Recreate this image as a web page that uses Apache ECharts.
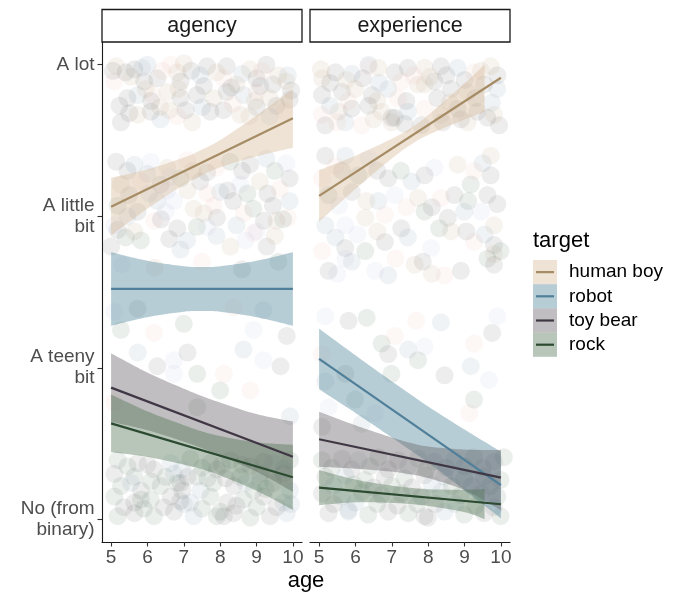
<!DOCTYPE html>
<html>
<head>
<meta charset="utf-8">
<script src="https://cdn.jsdelivr.net/npm/echarts@6/dist/echarts.min.js"></script>
<style>
  html, body { margin: 0; padding: 0; background: #ffffff; }
  #chart { width: 680px; height: 594px; }
</style>
</head>
<body>
<div id="chart"></div>
<script>
// ---- categories and ticks ----
const facets = ['agency', 'experience'];
const targets = ['human boy', 'robot', 'toy bear', 'rock'];
const yTickValues = [0, 1, 2, 3];
const yTickLabels = ['No (from\nbinary)', 'A teeny\nbit', 'A little\nbit', 'A lot'];
const xTickValues = [5, 6, 7, 8, 9, 10];

// ---- fitted lines (age 5 and age 10) ----
const fitAges = [5, 10];
const agencyHumanBoyFit = [2.063, 2.647];
const agencyRobotFit = [1.52, 1.52];
const agencyToyBearFit = [0.869, 0.413];
const agencyRockFit = [0.633, 0.277];
const experienceHumanBoyFit = [2.134, 2.914];
const experienceRobotFit = [1.058, 0.226];
const experienceToyBearFit = [0.528, 0.275];
const experienceRockFit = [0.209, 0.099];

// ---- confidence bands ----
const bandAges = [5, 6, 7, 7.5, 8, 9, 10];
const bandAgesCut = [5, 6, 7, 7.5, 8, 9, 9.55];
const agencyHumanBoyLow = [1.873, 2.05, 2.207, 2.27, 2.323, 2.395, 2.452];
const agencyHumanBoyHigh = [2.253, 2.31, 2.387, 2.44, 2.503, 2.665, 2.842];
const agencyRobotLow = [1.277, 1.334, 1.37, 1.375, 1.37, 1.334, 1.277];
const agencyRobotHigh = [1.763, 1.706, 1.67, 1.665, 1.67, 1.706, 1.763];
const agencyToyBearLow = [0.643, 0.588, 0.512, 0.469, 0.42, 0.314, 0.181];
const agencyToyBearHigh = [1.095, 0.968, 0.862, 0.813, 0.77, 0.694, 0.645];
const agencyRockLow = [0.443, 0.412, 0.361, 0.33, 0.289, 0.188, 0.062];
const agencyRockHigh = [0.823, 0.712, 0.621, 0.58, 0.549, 0.508, 0.492];
const experienceHumanBoyLow = [1.964, 2.18, 2.381, 2.469, 2.537, 2.638, 2.689];
const experienceHumanBoyHigh = [2.304, 2.4, 2.511, 2.579, 2.667, 2.878, 3.0];
const experienceRobotLow = [0.858, 0.702, 0.54, 0.457, 0.374, 0.192, 0.006];
const experienceRobotHigh = [1.258, 1.082, 0.91, 0.827, 0.744, 0.592, 0.446];
const experienceToyBearLow = [0.346, 0.334, 0.314, 0.297, 0.272, 0.192, 0.06];
const experienceToyBearHigh = [0.71, 0.62, 0.54, 0.505, 0.48, 0.46, 0.457];
const experienceRockLow = [0.093, 0.112, 0.108, 0.1, 0.088, 0.047, 0.0];
const experienceRockHigh = [0.325, 0.262, 0.222, 0.208, 0.198, 0.195, 0.2];

// ---- jittered responses [age, rating] ----
const agencyLot = [[5.14,2.99],[5.64,2.97],[6.0,3.0],[6.64,3.0],[7.0,3.01],[7.64,2.99],[8.18,2.99],[8.82,2.97],[9.27,3.0],[9.86,2.93],
  [5.09,2.89],[5.55,2.92],[5.91,2.89],[6.27,2.91],[6.82,2.95],[6.91,2.89],[7.45,2.93],[8.09,2.91],[8.45,2.87],[9.0,2.91],[9.45,2.87],[9.82,2.89],
  [5.23,2.73],[5.73,2.8],[6.14,2.8],[6.55,2.82],[6.91,2.78],[7.36,2.8],[7.82,2.78],[8.18,2.82],[8.64,2.8],[9.0,2.82],[9.36,2.78],[9.91,2.77],
  [5.27,2.62],[5.73,2.67],[6.09,2.69],[6.36,2.64],[6.82,2.66],[7.23,2.62],[7.73,2.69],[8.09,2.7],[8.55,2.67],[9.0,2.72],[9.36,2.66],[9.77,2.69],
  [5.95,2.84],[6.1,2.76],[9.1,2.86],[8.95,2.76],
  [5.4,2.95],[5.85,2.98],[6.4,2.96],[6.85,2.84],[7.2,2.96],[7.55,2.86],[7.9,2.95],[8.3,2.85],[8.6,2.94],[9.15,2.96],[9.6,2.93],
  [5.45,2.78],[5.5,2.68],[6.35,2.72],[7.05,2.7],[7.5,2.72],[8.35,2.74],[8.8,2.66],[9.55,2.73],[9.95,2.83],[6.6,2.7],[5.05,2.96]];
const agencyLittle = [[5.14,2.36],[5.64,2.34],[6.09,2.36],[6.55,2.32],[7.09,2.37],[7.64,2.29],[8.27,2.36],[8.82,2.34],[9.27,2.38],[9.82,2.35],
  [5.27,2.21],[5.82,2.23],[6.36,2.21],[6.91,2.25],[7.45,2.23],[8.0,2.16],[8.55,2.21],[9.09,2.23],[9.64,2.18],[9.91,2.25],
  [5.18,2.07],[5.73,2.03],[6.27,2.1],[6.73,2.1],[7.27,2.05],[7.82,2.07],[8.36,2.1],[8.91,2.05],[9.45,2.07],[9.91,2.1],
  [5.09,1.94],[5.64,1.9],[6.18,1.97],[6.82,1.92],[7.36,1.93],[7.91,1.99],[8.45,1.94],[9.0,1.9],[9.55,1.97],[9.86,1.99],
  [5.18,1.91],[5.82,1.84],[6.37,1.98],[7.09,1.84],[7.64,1.93],[8.28,1.8],[8.92,1.89],[9.28,1.8],[9.73,1.98],[5.0,1.8],[6.91,1.78],
  [5.3,1.68],[6.2,1.66],[7.5,1.7],[8.6,1.65],[9.6,1.7],
  [5.45,2.3],[6.0,2.28],[6.6,2.26],[7.25,2.3],[7.9,2.32],[8.6,2.3],[9.5,2.3],[5.5,2.14],[6.05,2.15],[6.55,2.17],[7.1,2.17],[7.65,2.15],
  [8.2,2.17],[8.75,2.15],[9.3,2.15],[5.45,2.0],[6.5,2.03],[7.55,2.02],[8.65,2.02],[9.2,1.97],[5.4,1.86],[6.6,1.85],[7.9,1.87],[8.7,1.84],[9.5,1.87]];
const agencyTeeny = [[5.09,1.37],[5.73,1.39],[7.0,1.29],[8.37,1.4],[9.19,1.38],[8.92,1.25],[9.83,1.21],[5.27,1.25],[6.18,1.23],[5.73,1.1],
  [6.73,1.05],[7.1,1.1],[7.37,0.96],[8.1,0.96],[8.64,1.12],[9.19,1.05],[9.66,1.01],[8.0,0.85],[8.83,0.85],[9.92,0.68],
  [6.73,0.96],[6.27,1.01],[7.37,0.74],[5.09,0.77]];
const agencyNo = [[5.18,0.39],[5.73,0.37],[6.64,0.37],[7.18,0.4],[7.73,0.37],[8.28,0.39],[8.83,0.35],[9.46,0.37],[9.92,0.39],
  [5.09,0.3],[5.64,0.28],[6.18,0.33],[6.73,0.3],[7.37,0.28],[7.91,0.33],[8.55,0.28],[9.1,0.3],[9.74,0.33],
  [5.27,0.22],[5.82,0.19],[6.36,0.22],[6.91,0.24],[7.46,0.19],[7.82,0.24],[8.37,0.22],[8.92,0.19],[9.46,0.24],[9.92,0.19],
  [5.09,0.15],[5.64,0.11],[6.09,0.13],[6.64,0.15],[7.18,0.11],[7.73,0.15],[8.19,0.11],[8.64,0.13],[9.19,0.15],[9.74,0.11],
  [5.18,0.02],[5.64,0.04],[6.18,0.02],[6.73,0.05],[7.27,0.02],[7.91,0.02],[8.37,0.04],[8.83,0.01],[9.37,0.02],[9.83,0.04],
  [6.82,0.24],[6.96,0.19],[8.0,0.05],[8.1,0.02],[9.1,0.25],[5.82,0.13],[9.74,0.3],
  [5.45,0.35],[6.0,0.36],[6.95,0.33],[7.5,0.34],[8.05,0.36],[8.6,0.36],[9.2,0.38],[5.55,0.24],[6.1,0.25],[7.1,0.28],[7.65,0.27],
  [8.15,0.27],[8.7,0.24],[9.25,0.2],[5.35,0.08],[5.9,0.07],[6.45,0.08],[7.0,0.1],[7.5,0.07],[8.45,0.09],[9.0,0.08],[9.55,0.08],
  [9.95,0.1],[6.5,0.28],[6.9,0.12]];
const experienceLot = [[5.08,2.91],[5.45,2.95],[5.9,2.94],[6.36,2.99],[6.63,2.98],[7.08,2.95],[7.44,2.98],[7.9,2.98],[8.35,2.99],[8.81,2.98],[9.26,2.95],[9.72,2.99],
  [5.08,2.8],[5.63,2.82],[5.99,2.84],[6.45,2.8],[6.9,2.84],[7.26,2.89],[7.72,2.87],[8.17,2.89],[8.63,2.84],[9.08,2.82],[9.54,2.87],[9.9,2.84],
  [5.08,2.67],[5.54,2.69],[5.9,2.71],[6.36,2.73],[6.72,2.69],[7.08,2.65],[7.44,2.69],[7.9,2.71],[8.35,2.67],[8.81,2.71],[9.35,2.69],[9.81,2.67],
  [5.17,2.6],[5.72,2.62],[6.17,2.6],[6.99,2.62],[7.35,2.61],[7.81,2.6],[9.08,2.62],[9.63,2.65],
  [6.36,3.0],[7.17,2.78],[7.9,2.87],[6.99,2.65],
  [5.3,2.88],[5.75,2.9],[6.2,2.91],[6.65,2.88],[7.6,2.93],[8.05,2.92],[8.5,2.93],[9.0,2.9],[9.45,2.96],[9.9,2.93],
  [5.3,2.73],[5.8,2.76],[6.6,2.76],[7.4,2.76],[8.25,2.78],[8.6,2.75],[9.3,2.78],[9.75,2.75],[5.5,2.62],[6.5,2.64],[8.4,2.62],[8.9,2.64],[5.05,2.97],[9.95,2.6]];
const experienceLittle = [[5.17,2.4],[5.72,2.4],[6.36,2.38],[9.72,2.4],
  [5.08,2.25],[5.63,2.3],[6.08,2.27],[6.9,2.25],[7.54,2.23],[8.17,2.32],[8.81,2.34],[9.26,2.3],[9.72,2.27],
  [5.26,2.14],[5.9,2.16],[6.63,2.1],[7.08,2.14],[7.72,2.12],[8.35,2.12],[8.72,2.14],[9.17,2.21],[9.63,2.14],
  [5.17,1.94],[5.72,1.94],[6.27,1.99],[6.81,2.01],[7.26,1.92],[7.9,2.03],[8.54,1.99],[8.99,2.03],[9.45,2.03],[9.81,1.94],
  [5.08,1.77],[5.72,1.79],[6.27,1.77],[6.81,1.83],[7.44,1.86],[8.08,1.79],[8.63,1.9],[9.26,1.83],[9.81,1.81],[9.99,1.77],
  [5.26,1.64],[5.9,1.7],[6.54,1.64],[7.63,1.68],[8.45,1.61],[8.9,1.64],[9.63,1.72],[9.81,1.68],[6.9,1.61],
  [5.72,1.72],[9.81,1.75],
  [5.45,2.33],[6.6,2.3],[7.25,2.3],[7.9,2.27],[9.5,2.35],[5.55,2.07],[6.3,2.1],[7.4,2.06],[8.1,2.06],[9.1,2.1],[9.9,2.08],
  [5.45,1.86],[6.05,1.88],[6.6,1.9],[7.1,1.72],[7.85,1.7],[8.3,1.92],[9.05,1.9],[9.55,1.88],[5.5,1.62],[8.1,1.62]];
const experienceTeeny = [[5.17,1.34],[5.81,1.31],[6.31,1.33],[7.67,1.31],[8.35,1.3],[9.9,1.34],[9.76,1.23],[6.72,1.16],[7.08,1.21],[7.45,1.12],
  [7.9,1.14],[6.9,1.09],[7.72,1.05],[9.26,1.16],[9.17,1.01],[9.67,0.92],[8.45,0.95],[6.99,0.96],[5.08,1.09],[5.17,0.91],
  [5.26,0.74],[5.08,0.61],[9.26,0.79],[9.13,0.7],[6.17,0.63],[6.54,0.7],[5.72,0.96],[5.99,0.79]];
const experienceNo = [[5.08,0.39],[5.63,0.4],[6.08,0.39],[6.63,0.41],[7.17,0.39],[7.72,0.4],[8.17,0.38],[8.72,0.39],[9.26,0.41],[9.81,0.38],[10.08,0.41],
  [5.17,0.28],[5.72,0.29],[6.26,0.26],[6.81,0.28],[7.35,0.27],[7.9,0.29],[8.45,0.28],[8.99,0.27],[9.54,0.28],[9.99,0.26],
  [5.08,0.17],[5.63,0.15],[6.17,0.18],[6.72,0.16],[7.26,0.17],[7.81,0.15],[8.35,0.18],[8.9,0.16],[9.45,0.17],[9.9,0.15],
  [5.26,0.04],[5.81,0.06],[6.35,0.03],[6.9,0.05],[7.45,0.04],[7.9,0.02],[8.45,0.05],[8.99,0.03],[9.54,0.04],[9.99,0.02],
  [7.99,0.01],[5.81,0.05],
  [5.35,0.34],[5.9,0.33],[6.4,0.35],[6.9,0.33],[7.45,0.35],[7.95,0.33],[8.5,0.34],[9.0,0.35],[9.5,0.34],
  [5.4,0.22],[5.95,0.23],[6.5,0.21],[7.0,0.22],[7.55,0.21],[8.1,0.23],[8.65,0.22],[9.2,0.22],[9.7,0.22],
  [5.4,0.1],[6.0,0.11],[6.6,0.1],[7.15,0.09],[7.7,0.1],[8.2,0.1],[8.75,0.1],[9.3,0.09],[9.8,0.08]];

// ---- styling ----
const FONT = '"Liberation Sans", Arial, Helvetica, sans-serif';
const lineColors = ['#a58c64', '#4f7f99', '#403745', '#2b4a30'];
const fillColors = ['rgba(215,185,152,0.4)', 'rgba(75,130,152,0.4)', 'rgba(97,92,97,0.4)', 'rgba(75,112,80,0.4)'];
const dot = {
  tan: 'rgba(185,160,125,0.14)', gray: 'rgba(105,105,105,0.15)', blue: 'rgba(105,140,160,0.13)',
  pink: 'rgba(230,160,140,0.10)', lav: 'rgba(160,165,220,0.10)', green: 'rgba(85,120,90,0.15)'
};
const palLot = [dot.tan, dot.gray, dot.blue, dot.pink, dot.tan, dot.gray, dot.gray];
const palLittle = [dot.gray, dot.blue, dot.lav, dot.tan, dot.pink, dot.gray, dot.green];
const palTeeny = [dot.lav, dot.gray, dot.green, dot.pink, dot.blue];
const palNo = [dot.green, dot.gray, dot.blue, dot.green, dot.gray];

const panelFits = [
  [agencyHumanBoyFit, agencyRobotFit, agencyToyBearFit, agencyRockFit],
  [experienceHumanBoyFit, experienceRobotFit, experienceToyBearFit, experienceRockFit]
];
const panelBands = [
  [[bandAges, agencyHumanBoyLow, agencyHumanBoyHigh], [bandAges, agencyRobotLow, agencyRobotHigh],
   [bandAges, agencyToyBearLow, agencyToyBearHigh], [bandAges, agencyRockLow, agencyRockHigh]],
  [[bandAgesCut, experienceHumanBoyLow, experienceHumanBoyHigh], [bandAges, experienceRobotLow, experienceRobotHigh],
   [bandAges, experienceToyBearLow, experienceToyBearHigh], [bandAgesCut, experienceRockLow, experienceRockHigh]]
];
const panelPoints = [
  [[agencyLot, palLot], [agencyLittle, palLittle], [agencyTeeny, palTeeny], [agencyNo, palNo]],
  [[experienceLot, palLot], [experienceLittle, palLittle], [experienceTeeny, palTeeny], [experienceNo, palNo]]
];

const gridLeft = [102, 310];
const gridTop = 42, gridW = 200, gridH = 500;

// Catmull-Rom curve through pixel points, sampled for a polygon outline
function sampleCurve(pts, steps) {
  const out = [];
  for (let i = 0; i < pts.length - 1; i++) {
    const p0 = pts[i - 1] || pts[i], p1 = pts[i], p2 = pts[i + 1], p3 = pts[i + 2] || pts[i + 1];
    const c1 = [p1[0] + (p2[0] - p0[0]) / 6, p1[1] + (p2[1] - p0[1]) / 6];
    const c2 = [p2[0] - (p3[0] - p1[0]) / 6, p2[1] - (p3[1] - p1[1]) / 6];
    for (let s = 0; s < steps; s++) {
      const t = s / steps, u = 1 - t;
      out.push([
        u * u * u * p1[0] + 3 * u * u * t * c1[0] + 3 * u * t * t * c2[0] + t * t * t * p2[0],
        u * u * u * p1[1] + 3 * u * u * t * c1[1] + 3 * u * t * t * c2[1] + t * t * t * p2[1]
      ]);
    }
  }
  out.push(pts[pts.length - 1]);
  return out;
}

function ribbonSeries(f, k) {
  const [ages, low, high] = panelBands[f][k];
  return {
    type: 'custom', xAxisIndex: f, yAxisIndex: f, z: 2, silent: true, clip: true,
    data: ages.map((a, i) => [a, low[i], high[i]]),
    encode: { x: 0, y: [1, 2] },
    renderItem: (params, api) => {
      if (params.dataIndex !== 0) return { type: 'group', children: [] };
      const top = ages.map((a, i) => api.coord([a, high[i]]));
      const bottom = ages.map((a, i) => api.coord([a, low[i]])).reverse();
      const outline = sampleCurve(top, 16).concat(sampleCurve(bottom, 16));
      return { type: 'polygon', shape: { points: outline }, style: { fill: fillColors[k] } };
    }
  };
}

const series = [];
facets.forEach((facet, f) => {
  panelPoints[f].forEach(([pts, pal]) => {
    series.push({
      type: 'scatter', xAxisIndex: f, yAxisIndex: f, z: 1, silent: true,
      symbol: 'circle', symbolSize: 18,
      data: pts,
      itemStyle: { color: p => pal[p.dataIndex % pal.length] }
    });
  });
  targets.forEach((t, k) => {
    series.push(ribbonSeries(f, k));
    series.push({
      type: 'line', xAxisIndex: f, yAxisIndex: f, z: 2, silent: true,
      symbol: 'none',
      lineStyle: { width: 2.2, color: lineColors[k] },
      data: fitAges.map((a, i) => [a, panelFits[f][k][i]])
    });
  });
});

const graphic = [];
facets.forEach((facet, f) => {
  graphic.push({
    type: 'rect', silent: true,
    shape: { x: gridLeft[f], y: 9.5, width: gridW, height: 32.5 },
    style: { fill: '#ffffff', stroke: '#1a1a1a', lineWidth: 1.3 }
  });
  graphic.push({
    type: 'text', silent: true,
    x: gridLeft[f] + gridW / 2, y: 26,
    style: { text: facet, fill: '#1a1a1a', font: '21.5px ' + FONT, align: 'center', verticalAlign: 'middle' }
  });
});
graphic.push({
  type: 'text', silent: true, x: 306, y: 581,
  style: { text: 'age', fill: '#000000', font: '22px ' + FONT, align: 'center', verticalAlign: 'middle' }
});
graphic.push({
  type: 'text', silent: true, x: 533, y: 241,
  style: { text: 'target', fill: '#000000', font: '22px ' + FONT, align: 'left', verticalAlign: 'middle' }
});
targets.forEach((t, k) => {
  const y0 = 260 + 24.2 * k;
  graphic.push({
    type: 'rect', silent: true,
    shape: { x: 533, y: y0, width: 24, height: 24.2 },
    style: { fill: fillColors[k] }
  });
  graphic.push({
    type: 'line', silent: true,
    shape: { x1: 536, y1: y0 + 12.1, x2: 554, y2: y0 + 12.1 },
    style: { stroke: lineColors[k], lineWidth: 2.2 }
  });
  graphic.push({
    type: 'text', silent: true, x: 569, y: y0 + 12.1,
    style: { text: t, fill: '#000000', font: '19px ' + FONT, align: 'left', verticalAlign: 'middle' }
  });
});

const axisColor = '#1a1a1a';
const option = {
  animation: false,
  backgroundColor: '#ffffff',
  grid: facets.map((f, i) => ({ left: gridLeft[i], top: gridTop, width: gridW, height: gridH, containLabel: false })),
  xAxis: facets.map((f, i) => ({
    type: 'value', gridIndex: i, min: 4.75, max: 10.25,
    splitLine: { show: false },
    axisLine: { show: true, onZero: false, lineStyle: { color: axisColor, width: 1.1 } },
    axisTick: { show: true, length: 4.5, customValues: xTickValues, lineStyle: { color: '#333333', width: 1.1 } },
    axisLabel: { customValues: xTickValues, margin: 6, color: '#4d4d4d', fontSize: 19, fontFamily: FONT }
  })),
  yAxis: facets.map((f, i) => ({
    type: 'value', gridIndex: i, min: -0.15, max: 3.15,
    splitLine: { show: false },
    axisLine: { show: i === 0, onZero: false, lineStyle: { color: axisColor, width: 1.1 } },
    axisTick: { show: i === 0, length: 4.5, customValues: yTickValues, lineStyle: { color: '#333333', width: 1.1 } },
    axisLabel: {
      show: i === 0, customValues: yTickValues, margin: 7.4, color: '#4d4d4d', fontSize: 19,
      fontFamily: FONT, lineHeight: 21, align: 'right',
      formatter: v => yTickLabels[yTickValues.indexOf(Math.round(v))]
    }
  })),
  series: series,
  graphic: graphic
};

const chart = echarts.init(document.getElementById('chart'), null, { renderer: 'canvas' });
chart.setOption(option);
</script>
</body>
</html>
